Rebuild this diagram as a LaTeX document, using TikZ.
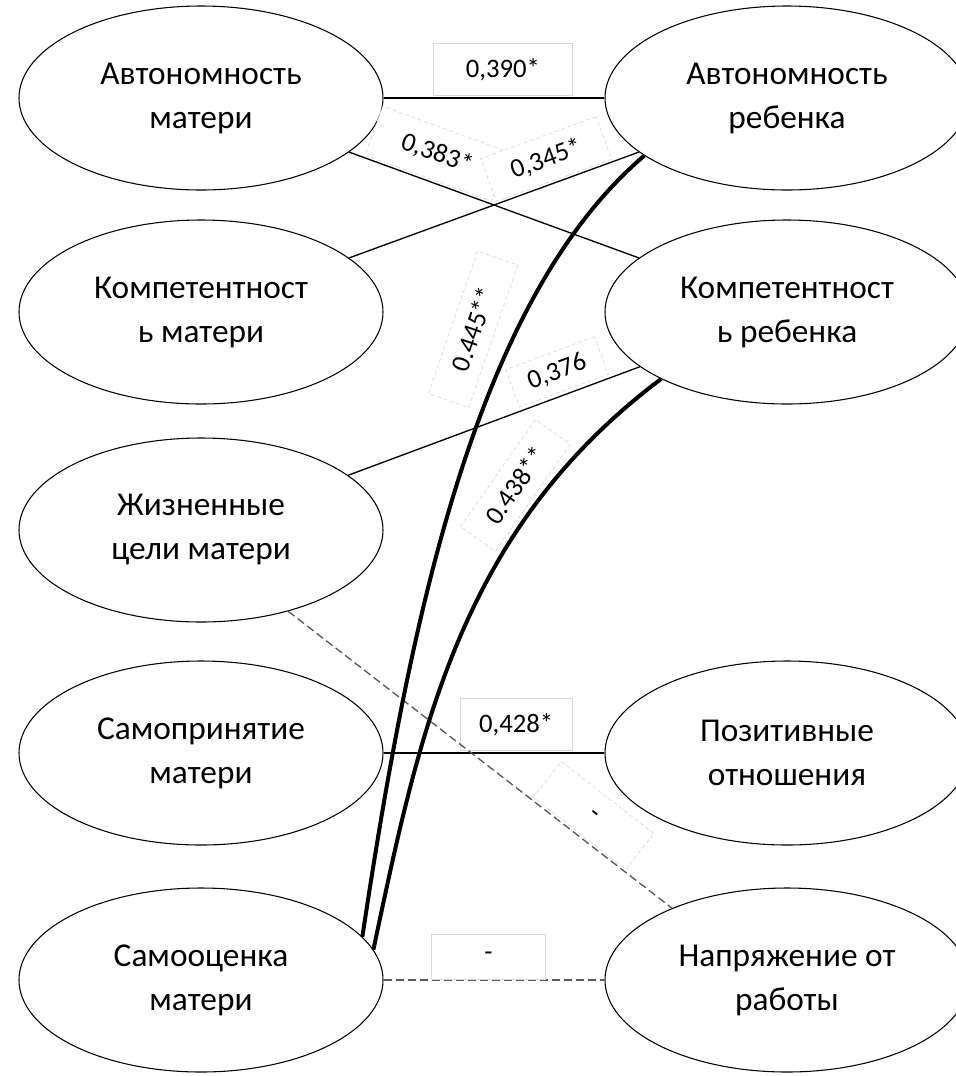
\documentclass[tikz,border=0pt]{standalone}
\usepackage{fontspec}
\setmainfont{Carlito}
\usetikzlibrary{shapes.geometric}

\tikzset{
  factor/.style={ellipse, draw, line width=0.8pt, minimum width=273pt, minimum height=138pt,
    inner sep=0pt, align=center, font=\fontsize{25}{33}\selectfont},
  coef/.style={draw=black!15, fill=white, solid, line width=0.5pt, inner sep=0pt,
    minimum height=39pt, anchor=south, outer sep=2pt, font=\fontsize{20}{24}\selectfont},
  coefs/.style={coef, densely dashed},
  link/.style={line width=1pt},
  strong/.style={line width=3pt},
  neg/.style={draw=black!65, line width=1pt, dash pattern=on 6pt off 3pt},
}

\begin{document}
\begin{tikzpicture}[x=0.75pt,y=0.75pt,yscale=-1,xscale=1]
\useasboundingbox[fill=white] (0,0) rectangle (956,1076);

%Shape: Ellipse
\node[factor] (autM) at (201,98) {Автономность\\матери};
%Shape: Ellipse
\node[factor] (compM) at (201,312) {Компетентност\\ь матери};
%Shape: Ellipse
\node[factor] (goalM) at (201,530) {Жизненные\\цели матери};
%Shape: Ellipse
\node[factor] (accM) at (201,753) {Самопринятие\\матери};
%Shape: Ellipse
\node[factor] (estM) at (201,980) {Самооценка\\матери};
%Shape: Ellipse
\node[factor] (autC) at (787,98) {Автономность\\ребенка};
%Shape: Ellipse
\node[factor] (compC) at (787,312) {Компетентност\\ь ребенка};
%Shape: Ellipse
\node[factor] (posR) at (787,753) {Позитивные\\отношения};
%Shape: Ellipse
\node[factor] (workS) at (787,980) {Напряжение от\\работы};

%Straight Lines
\draw[link] (autM.east) -- (autC.west)
  node[coef, pos=0.54, minimum width=104pt] (k1) {0,390*};
%Straight Lines
\draw[link] (autM) -- (compC)
  node[coefs, pos=0.27, rotate=-20, minimum width=101pt] (k2) {0,383*};
%Straight Lines
\draw[link] (compM) -- (autC)
  node[coefs, pos=0.71, rotate=20, minimum width=92pt, minimum height=34pt] (k3) {0,345*};
%Straight Lines
\draw[link] (goalM) -- (compC)
  node[coefs, pos=0.745, rotate=20.4, outer sep=3pt, minimum width=71pt, minimum height=30pt] (k4) {0,376};
%Straight Lines
\draw[link] (accM.east) -- (posR.west)
  node[coef, pos=0.6, minimum width=84pt] (k5) {0,428*};
%Straight Lines
\draw[neg] (goalM.-43.3) -- (workS.148.75)
  node[coefs, pos=0.755, rotate=-37.9, minimum width=88pt, minimum height=34pt] (k6) {-};
%Straight Lines
\draw[neg] (estM.east) -- (workS.west)
  node[coef, pos=0.475, outer sep=0.5pt, minimum width=85pt, minimum height=34pt] (k7) {-};

%Curve Lines
\draw[strong] (estM.15.6) .. controls (410,620) and (475,300) .. (autC.202.6)
  node[coefs, pos=0.68, rotate=71, outer sep=14pt, minimum width=113pt, minimum height=32pt] (k8) {0.445**};
%Curve Lines
\draw[strong] (estM.10.6) .. controls (420,730) and (460,530) .. (compC.208.2)
  node[coefs, pos=0.75, rotate=55, outer sep=4.5pt, minimum width=98pt, minimum height=32pt] (k9) {0.438**};

\end{tikzpicture}
\end{document}
